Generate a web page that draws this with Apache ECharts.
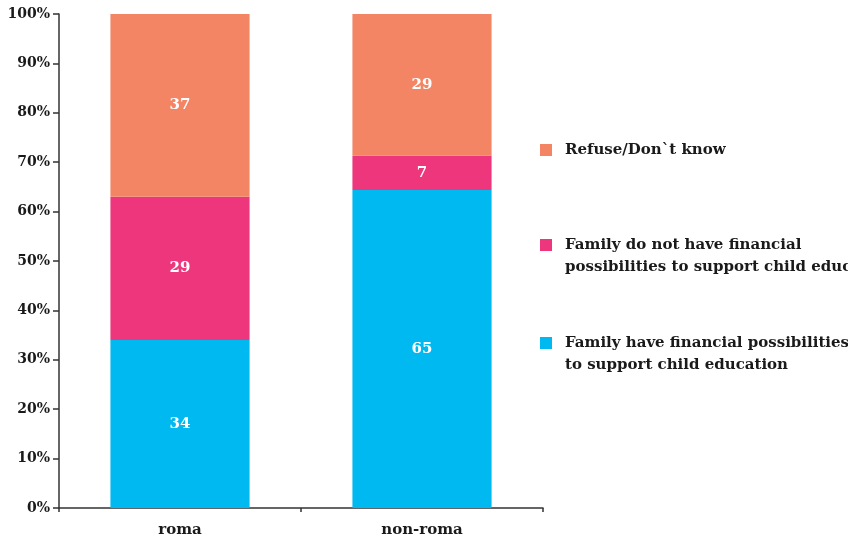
<!DOCTYPE html>
<html>
<head>
<meta charset="utf-8">
<script src="https://cdn.jsdelivr.net/npm/echarts@6/dist/echarts.min.js"></script>
<style>
  html, body { margin: 0; padding: 0; background: #ffffff; }
  #chart { width: 848px; height: 539px; }
</style>
</head>
<body>
<div id="chart"></div>
<script>
// Survey shares by group, stacked to 100%
const categories = ['roma', 'non-roma'];
const haveMeans = [34, 65];
const noMeans = [29, 7];
const refuse = [37, 29];
const yTicks = ['0%', '10%', '20%', '30%', '40%', '50%', '60%', '70%', '80%', '90%', '100%'];

const seriesNames = [
  'Family have financial possibilities\nto support child education',
  'Family do not have financial\npossibilities to support child education',
  'Refuse/Don`t know'
];
const colors = ['#00B9F0', '#EE367C', '#F38565'];
const raw = [haveMeans, noMeans, refuse];

// each column is normalised to its own total
const totals = categories.map((_, i) => raw.reduce((s, arr) => s + arr[i], 0));

const FONT = 'DejaVu Serif';

const chart = echarts.init(document.getElementById('chart'), null, { renderer: 'canvas' });

const series = raw.map((arr, k) => ({
  name: seriesNames[k],
  type: 'bar',
  stack: 'total',
  barWidth: '57.5%',
  itemStyle: { color: colors[k] },
  data: arr.map((v, i) => v / totals[i] * 100),
  label: {
    show: true,
    position: 'inside',
    color: '#ffffff',
    fontFamily: FONT,
    fontWeight: 'bold',
    fontSize: 15,
    formatter: p => String(arr[p.dataIndex])
  },
  emphasis: { disabled: true }
}));

const legendBase = {
  left: 535,
  orient: 'vertical',
  itemWidth: 12,
  itemHeight: 12,
  icon: 'rect',
  selectedMode: false,
  textStyle: {
    fontFamily: FONT,
    fontWeight: 'bold',
    fontSize: 15,
    lineHeight: 22,
    color: '#1a1a1a',
    padding: [0, 0, 0, 8]
  }
};

chart.setOption({
  animation: false,
  backgroundColor: '#ffffff',
  grid: { left: 59, right: 305, top: 14, bottom: 31, containLabel: false },
  legend: [
    Object.assign({}, legendBase, { top: 134, data: [seriesNames[2]] }),
    Object.assign({}, legendBase, { top: 207, data: [seriesNames[1]], formatter: n => '\n' + n }),
    Object.assign({}, legendBase, { top: 305, data: [seriesNames[0]], formatter: n => '\n' + n })
  ],
  xAxis: {
    type: 'category',
    data: categories,
    axisLine: { lineStyle: { color: '#333333', width: 1.5 } },
    axisTick: { show: true, length: 4, lineStyle: { color: '#333333', width: 1.5 } },
    axisLabel: {
      margin: 15,
      color: '#1a1a1a',
      fontFamily: FONT,
      fontWeight: 'bold',
      fontSize: 15
    }
  },
  yAxis: {
    type: 'value',
    min: 0,
    max: 100,
    interval: 10,
    splitLine: { show: false },
    axisLine: { show: true, lineStyle: { color: '#333333', width: 1.5 } },
    axisTick: { show: true, length: 6, lineStyle: { color: '#333333', width: 1.5 } },
    axisLabel: {
      margin: 9,
      color: '#1a1a1a',
      fontFamily: FONT,
      fontWeight: 'bold',
      fontSize: 14,
      formatter: v => yTicks[Math.round(v / 10)]
    }
  },
  series: series
});
</script>
</body>
</html>
